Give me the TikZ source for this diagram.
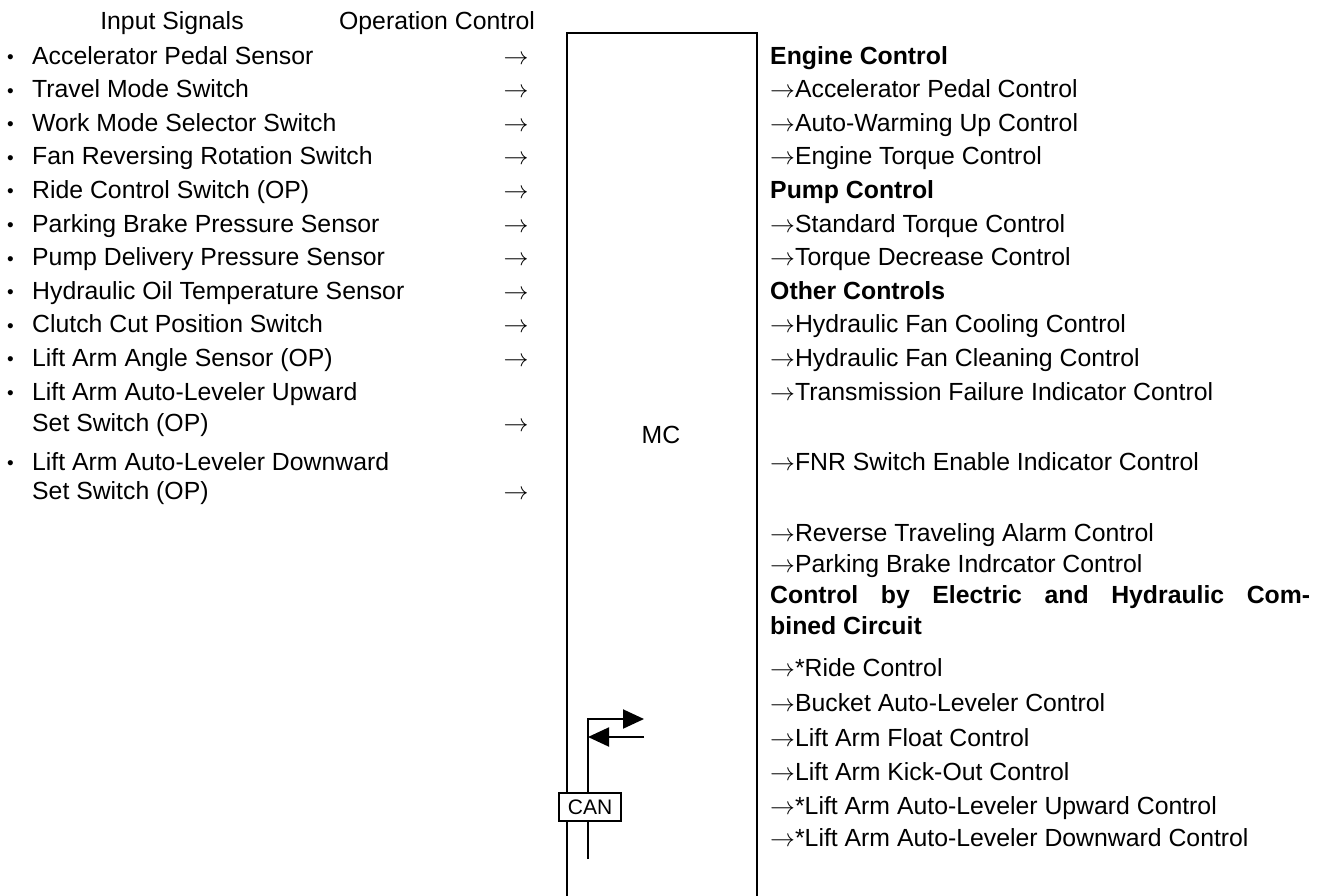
\documentclass[tikz,border=0pt]{standalone}
\usepackage{fontspec}
\setmainfont{Liberation Sans}
\usetikzlibrary{arrows.meta}
\newcommand\bul{\makebox[25pt][l]{\fontsize{19}{19}\selectfont\raisebox{0.5pt}{\textbullet}}}
\newcommand\ra{$\rightarrow$}
\begin{document}
\begin{tikzpicture}[x=1pt,y=-1pt,
  txt/.style={anchor=base west,inner sep=0pt,font=\fontsize{24.8}{28}\selectfont},
  hdr/.style={anchor=base,inner sep=0pt,font=\fontsize{24.8}{28}\selectfont},
  bld/.style={txt,font=\fontsize{24.8}{28}\selectfont\bfseries},
  arr/.style={anchor=base,inner sep=0pt,font=\fontsize{24.8}{28}\selectfont},
  frame/.style={line width=2.2pt},
  bus/.style={line width=2pt},
  tip/.style={-{Triangle[length=21pt,width=19pt]}},
  canbox/.style={draw,line width=1.3pt,fill=white,minimum width=62pt,minimum height=28pt,inner sep=0pt,font=\fontsize{21}{24}\selectfont}]
\useasboundingbox (0,0) rectangle (1327,895);
% headers
\node[hdr] (hIn) at (172,29) {Input Signals};
\node[hdr] (hOp) at (437,29) {Operation Control};
% left inputs
\node[txt] (i1) at (7,64) {\bul Accelerator Pedal Sensor};
\node[txt] (i2) at (7,97.6) {\bul Travel Mode Switch};
\node[txt] (i3) at (7,131.2) {\bul Work Mode Selector Switch};
\node[txt] (i4) at (7,164.8) {\bul Fan Reversing Rotation Switch};
\node[txt] (i5) at (7,198.4) {\bul Ride Control Switch (OP)};
\node[txt] (i6) at (7,232) {\bul Parking Brake Pressure Sensor};
\node[txt] (i7) at (7,265.6) {\bul Pump Delivery Pressure Sensor};
\node[txt] (i8) at (7,299.2) {\bul Hydraulic Oil Temperature Sensor};
\node[txt] (i9) at (7,332.8) {\bul Clutch Cut Position Switch};
\node[txt] (i10) at (7,366.4) {\bul Lift Arm Angle Sensor (OP)};
\node[txt] (i11) at (7,400) {\bul Lift Arm Auto-Leveler Upward};
\node[txt] (i11b) at (32,431) {Set Switch (OP)};
\node[txt] (i12) at (7,470) {\bul Lift Arm Auto-Leveler Downward};
\node[txt] (i12b) at (32,499) {Set Switch (OP)};
% input arrows
\foreach \n/\y in {a1/64,a2/97.6,a3/131.2,a4/164.8,a5/198.4,a6/232,a7/265.6,a8/299.2,a9/332.8,a10/366.4,a11/431,a12/499}
  \node[arr] (\n) at (516,\y) {\ra};
% MC frame
\coordinate (mcBL) at (567,900);
\coordinate (mcTL) at (567,33);
\coordinate (mcTR) at (757,33);
\coordinate (mcBR) at (757,900);
\draw[frame] (mcBL) -- (mcTL) -- (mcTR) -- (mcBR);
\node[font=\fontsize{24.8}{28}\selectfont] (mc) at (661,435) {MC};
% CAN bus
\coordinate (busTop) at (588,719);
\coordinate (busBot) at (588,859);
\coordinate (outEnd) at (644,719);
\coordinate (inStart) at (644,737);
\coordinate (inEnd) at (588,737);
\draw[bus,tip] (busBot) -- (busTop) -- (outEnd);
\draw[bus,tip] (inStart) -- (inEnd);
\node[canbox] (can) at (590,807) {CAN};
% right outputs
\node[bld] (o1) at (770,64) {Engine Control};
\node[txt] (o2) at (770,97.6) {\ra Accelerator Pedal Control};
\node[txt] (o3) at (770,131.2) {\ra Auto-Warming Up Control};
\node[txt] (o4) at (770,164.8) {\ra Engine Torque Control};
\node[bld] (o5) at (770,198.4) {Pump Control};
\node[txt] (o6) at (770,232) {\ra Standard Torque Control};
\node[txt] (o7) at (770,265.6) {\ra Torque Decrease Control};
\node[bld] (o8) at (770,299.2) {Other Controls};
\node[txt] (o9) at (770,332.8) {\ra Hydraulic Fan Cooling Control};
\node[txt] (o10) at (770,366.4) {\ra Hydraulic Fan Cleaning Control};
\node[txt] (o11) at (770,400) {\ra Transmission Failure Indicator Control};
\node[txt] (o12) at (770,470) {\ra FNR Switch Enable Indicator Control};
\node[txt] (o13) at (770,541) {\ra Reverse Traveling Alarm Control};
\node[txt] (o14) at (770,572) {\ra Parking Brake Indrcator Control};
\node[bld] (o15) at (770,603) {\makebox[540pt][s]{Control by Electric and Hydraulic Com-}};
\node[bld] (o16) at (770,634) {bined Circuit};
\node[txt] (o17) at (770,676) {\ra *Ride Control};
\node[txt] (o18) at (770,711) {\ra Bucket Auto-Leveler Control};
\node[txt] (o19) at (770,746) {\ra Lift Arm Float Control};
\node[txt] (o20) at (770,780) {\ra Lift Arm Kick-Out Control};
\node[txt] (o21) at (770,814) {\ra *Lift Arm Auto-Leveler Upward Control};
\node[txt] (o22) at (770,846) {\ra *Lift Arm Auto-Leveler Downward Control};
\end{tikzpicture}
\end{document}
